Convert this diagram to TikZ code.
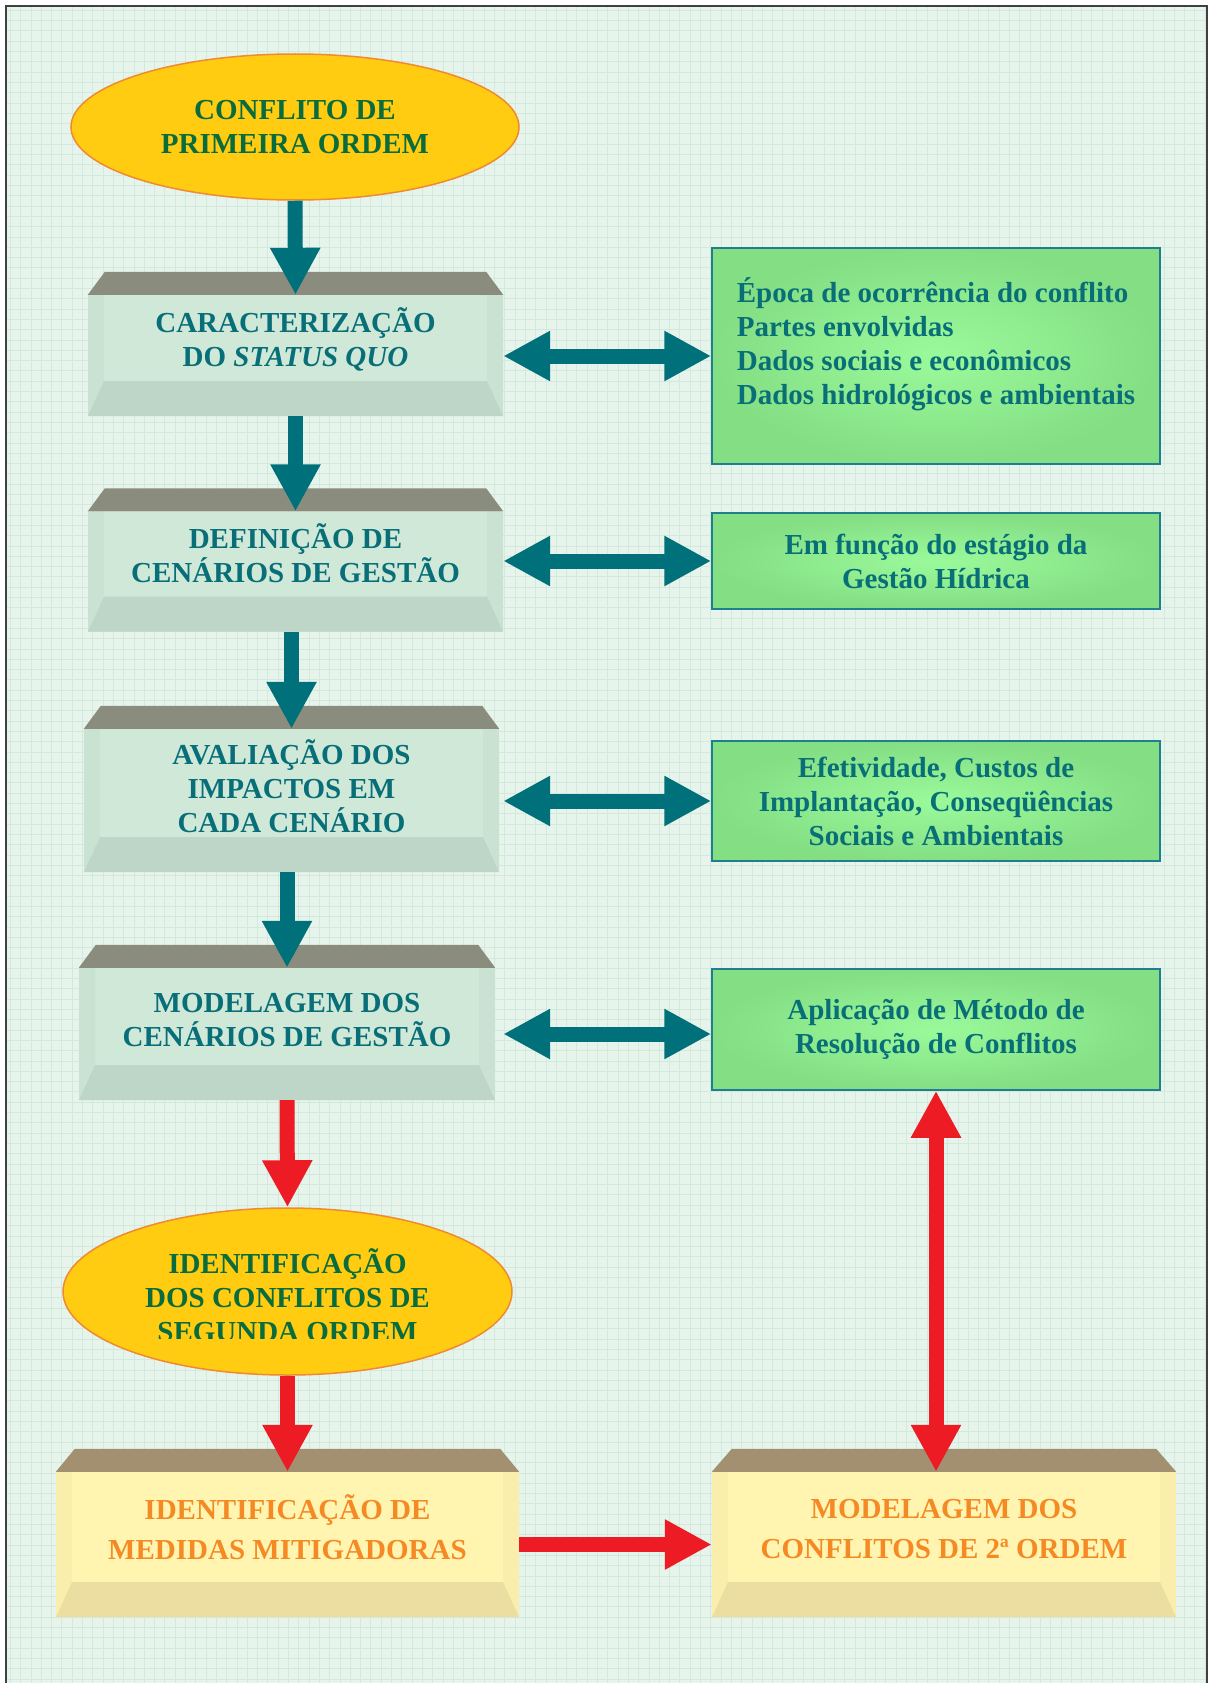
\documentclass[tikz,border=0pt]{standalone}
\usepackage{fontspec}
\setmainfont{Liberation Serif}
\usetikzlibrary{shapes.geometric,arrows.meta}

\definecolor{paper}{RGB}{230,244,236}
\definecolor{paperline}{RGB}{210,233,221}
\definecolor{frameline}{RGB}{64,64,64}
\definecolor{goldfill}{RGB}{255,204,17}
\definecolor{goldline}{RGB}{240,138,48}
\definecolor{ordertext}{RGB}{10,108,60}
\definecolor{tealtext}{RGB}{8,110,120}
\definecolor{tealarrow}{RGB}{0,112,122}
\definecolor{tealtop}{RGB}{138,140,126}
\definecolor{tealface}{RGB}{207,232,216}
\definecolor{tealbevel}{RGB}{190,214,199}
\definecolor{sandtop}{RGB}{163,144,112}
\definecolor{sandface}{RGB}{255,245,176}
\definecolor{sandbevel}{RGB}{236,222,160}
\definecolor{sandtext}{RGB}{245,138,37}
\definecolor{leafin}{RGB}{154,250,154}
\definecolor{leafout}{RGB}{132,222,132}
\definecolor{leafline}{RGB}{31,127,143}
\definecolor{alarm}{RGB}{237,28,36}

\newcommand{\bigbold}{\bfseries\fontsize{29}{34}\selectfont}
\newcommand{\slabtop}[3]{%
  \fill[#2] (#1.north west) -- ([xshift=#3,yshift=-23pt]#1.north west) -- ([xshift=-#3,yshift=-23pt]#1.north east) -- (#1.north east) -- cycle;}

\tikzset{
  order/.style={ellipse, fill=goldfill, draw=goldline, line width=1.5pt, inner sep=0pt, text=ordertext, align=center, font=\bigbold},
  slab/.style={rectangle, inner sep=0pt, align=center, font=\bigbold,
    execute at end node={\rule[-28pt]{0pt}{28pt}},
    path picture={
      \fill[#1] (path picture bounding box.south west) -- ([xshift=16pt,yshift=35pt]path picture bounding box.south west) -- ([xshift=-16pt,yshift=35pt]path picture bounding box.south east) -- (path picture bounding box.south east) -- cycle;
      \fill[#1,opacity=0.3] (path picture bounding box.south west) -- (path picture bounding box.north west) -- ([xshift=16pt]path picture bounding box.north west) -- ([xshift=16pt,yshift=35pt]path picture bounding box.south west) -- cycle;
      \fill[#1,opacity=0.3] (path picture bounding box.south east) -- (path picture bounding box.north east) -- ([xshift=-16pt]path picture bounding box.north east) -- ([xshift=-16pt,yshift=35pt]path picture bounding box.south east) -- cycle;
    }},
  lift/.style={execute at end node={\rule[-#1]{0pt}{#1}}},
  stage/.style={slab=tealbevel, fill=tealface, text=tealtext, minimum width=415pt},
  remedy/.style={slab=sandbevel, fill=sandface, text=sandtext, minimum width=464pt, minimum height=145pt, font=\bfseries\fontsize{29}{40}\selectfont},
  note/.style={rectangle, draw=leafline, line width=1.5pt, inner color=leafin, outer color=leafout, text=tealtext, align=center, inner sep=0pt, font=\bigbold, minimum width=448pt},
  flow/.style={line width=15pt, -{Triangle[width=47pt,length=47pt]}},
  both/.style={line width=15pt, {Triangle[width=47pt,length=47pt]}-{Triangle[width=47pt,length=47pt]}},
}

\begin{document}
\begin{tikzpicture}[x=1pt,y=1pt,yscale=-1]
\useasboundingbox (0,0) rectangle (1209,1683);

%Shape: page
\fill[paper] (6,6) rectangle (1207,1700);
\draw[paperline, line width=0.8pt] (6,6) grid[step=10.3pt] (1207,1700);
\draw[frameline, line width=2.5pt] (6,1700) -- (6,6) -- (1207,6) -- (1207,1700);

%Shape: left column
\node[order, minimum width=448pt, minimum height=146pt] (conflict) at (295,127) {CONFLITO DE\\PRIMEIRA ORDEM};
\node[stage, lift=36pt, minimum height=121pt] (statusquo) at (295.5,355.5) {CARACTERIZAÇÃO\\DO \textit{STATUS QUO}};
\node[stage, lift=36pt, minimum height=120pt] (scenarios) at (295.5,571.5) {DEFINIÇÃO DE\\CENÁRIOS DE GESTÃO};
\node[stage, minimum height=143pt] (impacts) at (291.5,800.5) {AVALIAÇÃO DOS\\IMPACTOS EM\\CADA CENÁRIO};
\node[stage, minimum height=132pt, minimum width=416pt] (modelling) at (287,1034) {MODELAGEM DOS\\CENÁRIOS DE GESTÃO};
\node[order, minimum width=449pt, minimum height=167pt] (second) at (287.5,1291.5) {};
\begin{scope}
  \clip (60,1200) rectangle (515,1338);
  \node[text=ordertext, align=center, font=\bigbold] (secondtext) at ([yshift=4pt]second.center) {IDENTIFICAÇÃO\\DOS CONFLITOS DE\\SEGUNDA ORDEM};
\end{scope}
\node[remedy, lift=34pt, minimum width=463pt] (mitigation) at (287.5,1544.5) {IDENTIFICAÇÃO DE\\MEDIDAS MITIGADORAS};
\node[remedy, lift=32pt] (secondmodel) at (944,1544.5) {MODELAGEM DOS\\CONFLITOS DE 2ª ORDEM};

\slabtop{statusquo}{tealtop}{17pt}
\slabtop{scenarios}{tealtop}{17pt}
\slabtop{impacts}{tealtop}{17pt}
\slabtop{modelling}{tealtop}{17pt}
\slabtop{mitigation}{sandtop}{19pt}
\slabtop{secondmodel}{sandtop}{20pt}

%Shape: right column
\node[note, minimum height=216pt, align=left, lift=30pt] (facts) at (936,356) {Época de ocorrência do conflito\\Partes envolvidas\\Dados sociais e econômicos\\Dados hidrológicos e ambientais};
\node[note, minimum height=96pt] (stage) at (936,561) {Em função do estágio da\\Gestão Hídrica};
\node[note, minimum height=120pt] (effects) at (936,801) {Efetividade, Custos de\\Implantação, Conseqüências\\Sociais e Ambientais};
\node[note, minimum height=121pt] (method) at (936,1029.5) {Aplicação de Método de\\Resolução de Conflitos};

%Arrows
\draw[flow, tealarrow] (conflict.south) -- (statusquo.north);
\draw[flow, tealarrow] (statusquo.south) -- (scenarios.north);
\draw[flow, tealarrow] (scenarios.south -| impacts.north) -- (impacts.north);
\draw[flow, tealarrow] (impacts.south -| modelling.north) -- (modelling.north);
\draw[both, tealarrow] (statusquo.east |- facts.west) -- (facts.west);
\draw[both, tealarrow] (statusquo.east |- stage.west) -- (stage.west);
\draw[both, tealarrow] (statusquo.east |- effects.west) -- (effects.west);
\draw[both, tealarrow] (statusquo.east |- modelling.east) -- (modelling.east -| method.west);
\draw[flow, alarm] (modelling.south) -- (second.north);
\draw[flow, alarm] (second.south) -- (mitigation.north);
\draw[flow, alarm] (mitigation.east) -- (secondmodel.west);
\draw[both, alarm] (method.south) -- (method.south |- secondmodel.north);

\end{tikzpicture}
\end{document}
